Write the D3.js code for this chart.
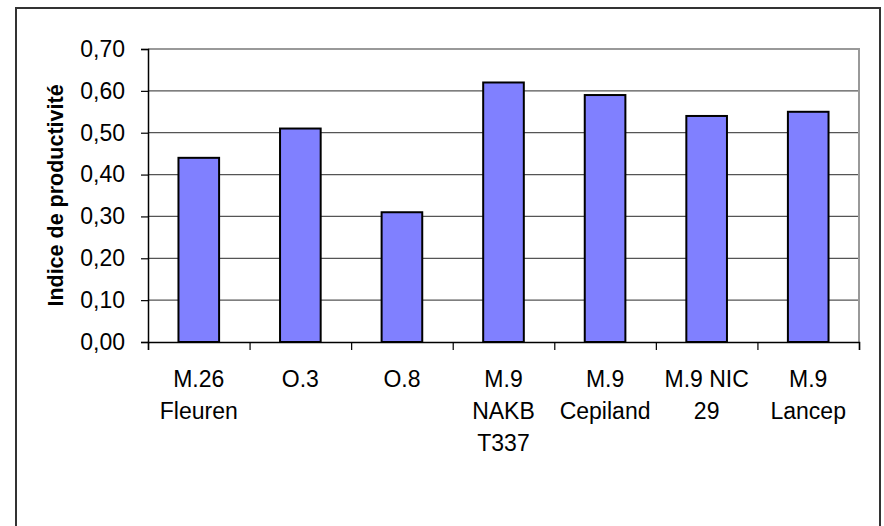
<!DOCTYPE html>
<html>
<head>
<meta charset="utf-8">
<script src="https://cdn.jsdelivr.net/npm/d3@7"></script>
<style>
  html, body { margin: 0; padding: 0; background: #fff; }
  svg { display: block; }
  text { font-family: Arial, "Liberation Sans", sans-serif; fill: #000; }
</style>
</head>
<body>
<svg id="chart" width="884" height="526"></svg>
<script>
const categories = [
  ["M.26", "Fleuren"],
  ["O.3"],
  ["O.8"],
  ["M.9", "NAKB", "T337"],
  ["M.9", "Cepiland"],
  ["M.9 NIC", "29"],
  ["M.9", "Lancep"]
];
const values = [0.44, 0.51, 0.31, 0.62, 0.59, 0.54, 0.55];
const yTicks = [0, 0.1, 0.2, 0.3, 0.4, 0.5, 0.6, 0.7];
const yTitle = "Indice de productivité";

const svg = d3.select("#chart");

// outer frame
svg.append("rect")
  .attr("x", 16).attr("y", 8)
  .attr("width", 864).attr("height", 530)
  .attr("fill", "#fff").attr("stroke", "#333").attr("stroke-width", 2);

const plot = { left: 148, top: 49, right: 859, bottom: 342 };

const x = d3.scaleBand()
  .domain(categories.map((d, i) => i))
  .range([plot.left, plot.right])
  .paddingInner(0.6).paddingOuter(0.3);

const xEdges = d3.scaleLinear().domain([0, categories.length]).range([plot.left, plot.right]);

const y = d3.scaleLinear().domain([0, 0.7]).range([plot.bottom, plot.top]);

// gridlines
svg.append("g")
  .selectAll("line")
  .data(yTicks.filter(t => t > 0 && t < 0.7))
  .join("line")
  .attr("x1", plot.left).attr("x2", plot.right)
  .attr("y1", d => y(d)).attr("y2", d => y(d))
  .attr("stroke", "#555").attr("stroke-width", 1.2);

// plot area top/right border (gray)
svg.append("path")
  .attr("d", `M${plot.left},${y(0.7)}H${plot.right}V${plot.bottom}`)
  .attr("fill", "none").attr("stroke", "#999").attr("stroke-width", 2);

// bars
svg.append("g")
  .selectAll("rect")
  .data(values)
  .join("rect")
  .attr("x", (d, i) => x(i))
  .attr("y", d => y(d))
  .attr("width", x.bandwidth())
  .attr("height", d => y(0) - y(d))
  .attr("fill", "#8080FF")
  .attr("stroke", "#000").attr("stroke-width", 2);

// y axis
const yAxis = d3.axisLeft(y)
  .tickValues(yTicks)
  .tickSize(7)
  .tickPadding(16)
  .tickFormat(d => d3.format(".2f")(d).replace(".", ","));
const gy = svg.append("g")
  .attr("transform", `translate(${plot.left},0)`)
  .call(yAxis);
gy.select(".domain").attr("stroke", "#000").attr("stroke-width", 1.5);
gy.selectAll(".tick line").attr("stroke", "#000").attr("stroke-width", 1.2);
gy.selectAll(".tick text")
  .attr("font-size", 23)
  .attr("font-family", "Arial, 'Liberation Sans', sans-serif")
  .attr("fill", "#000");

// x axis (ticks at category boundaries)
const xAxis = d3.axisBottom(xEdges)
  .tickValues(d3.range(categories.length + 1))
  .tickSize(8)
  .tickFormat("");
const gx = svg.append("g")
  .attr("transform", `translate(0,${plot.bottom})`)
  .call(xAxis);
gx.select(".domain").attr("stroke", "#000").attr("stroke-width", 1.5);
gx.selectAll(".tick line").attr("stroke", "#000").attr("stroke-width", 1.2);

// category labels
const lab = svg.append("g");
categories.forEach((lines, i) => {
  const cx = x(i) + x.bandwidth() / 2;
  const t = lab.append("text")
    .attr("text-anchor", "middle")
    .attr("font-size", 23);
  lines.forEach((l, j) => {
    t.append("tspan").attr("x", cx).attr("y", 387 + j * 32).text(l);
  });
});

// y title
svg.append("text")
  .attr("transform", `translate(63,${(plot.top + plot.bottom) / 2}) rotate(-90)`)
  .attr("text-anchor", "middle")
  .attr("font-size", 21.5)
  .attr("font-weight", "bold")
  .text(yTitle);
</script>
</body>
</html>
